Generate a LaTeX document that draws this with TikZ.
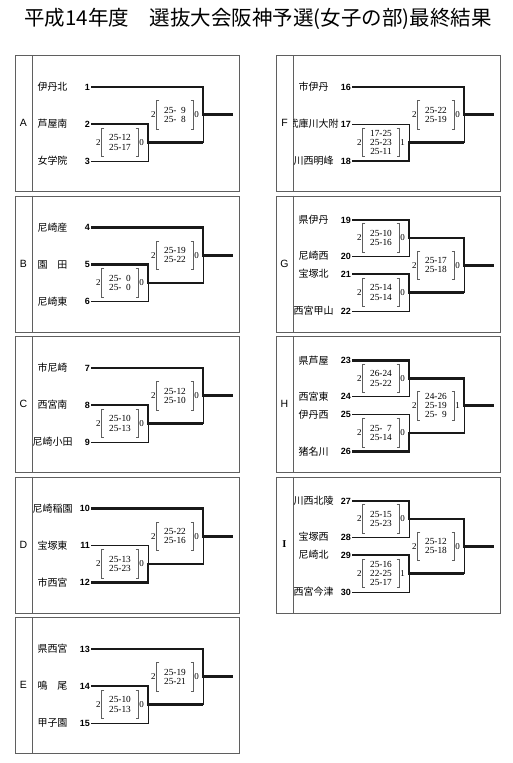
\documentclass[tikz,border=0pt]{standalone}
\usepackage{fontspec}
\setmainfont{Liberation Serif}
\setsansfont{Liberation Sans}
\newfontfamily\jpfont{Noto Sans CJK JP}
\usetikzlibrary{positioning}
\definecolor{ink}{RGB}{25,25,25}
\definecolor{rule}{RGB}{95,95,95}
\tikzset{
  title/.style={font=\jpfont\fontsize{20.5}{20.5}\selectfont,inner sep=0pt},
  frame/.style={draw=rule,line width=0.8pt},
  poolname/.style={font=\sffamily\fontsize{10.5}{10.5}\selectfont},
  school/.style={font=\jpfont\fontsize{10}{10}\selectfont,inner sep=0pt},
  seed/.style={font=\sffamily\bfseries\fontsize{9}{9}\selectfont,anchor=east,inner sep=1pt},
  win/.style={draw=ink,line width=2.6pt},
  lose/.style={draw=ink,line width=0.9pt},
  scores/.style={font=\fontsize{9.3}{9.2}\selectfont,align=center,
    minimum width=36pt,minimum height=28pt,inner sep=0pt},
  sets/.style={font=\fontsize{9}{9}\selectfont,inner sep=1pt},
  brk/.style={draw=rule,line width=0.7pt},
}
% frame of one pool: id, column x, top, letter
\newcommand{\pool}[4]{%
  \node[frame,anchor=north west,minimum width=224pt,minimum height=136pt,inner sep=0pt] (#1box) at (#2+15,#3) {};
  \draw[frame] ([xshift=17pt]#1box.north west) -- ([xshift=17pt]#1box.south west);
  \node[poolname] (#1) at (#2+23.5,#3+68) {#4};}
% one team: id, column x, y, school, number
\newcommand{\team}[5]{%
  \node[school] (#1name) at (#2+52.5,#3) {#4};
  \node[seed] (#1) at (#2+91,#3) {#5};}
% one match: junction, winner, loser, next junction
\newcommand{\bout}[4]{%
  \draw[lose] (#3) -| (#1);
  \draw[win] (#2) -| (#1) -- (#1 -| #4);}
% set scores beside a junction
\newcommand{\score}[4]{%
  \node[scores] (#1s) at ([xshift=-28pt]#1) {#2};
  \draw[brk] ([xshift=2.5pt]#1s.north west) -- (#1s.north west) -- (#1s.south west) -- ([xshift=2.5pt]#1s.south west);
  \draw[brk] ([xshift=-2.5pt]#1s.north east) -- (#1s.north east) -- (#1s.south east) -- ([xshift=-2.5pt]#1s.south east);
  \node[sets,left=0pt of #1s] (#1l) {#3};
  \node[sets,right=0pt of #1s] (#1r) {#4};}

\begin{document}
\begin{tikzpicture}[x=1pt,y=-1pt]
\useasboundingbox (0,0) rectangle (512,763);
\node[title] (title) at (258,19) {平成14年度\quad 選抜大会阪神予選(女子の部)最終結果};

% pool A
\pool{A}{0}{55}{A}
\team{t1}{0}{87}{伊丹北}{1}
\team{t2}{0}{124}{芦屋南}{2}
\team{t3}{0}{161}{女学院}{3}
\coordinate (a1) at (148,142.5);
\coordinate (a2) at (203,114.75);
\coordinate (aw) at (233,114.75);
\bout{a1}{t2.east}{t3.east}{a2}
\bout{a2}{t1.east}{a1}{aw}
\score{a1}{25-12\\25-17}{2}{0}
\score{a2}{25-\phantom{0}9\\25-\phantom{0}8}{2}{0}

% pool B
\pool{B}{0}{195.5}{B}
\team{t4}{0}{227.5}{尼崎産}{4}
\team{t5}{0}{264.5}{園　田}{5}
\team{t6}{0}{301.5}{尼崎東}{6}
\coordinate (b1) at (148,283);
\coordinate (b2) at (203,255.25);
\coordinate (bw) at (233,255.25);
\bout{b1}{t5.east}{t6.east}{b2}
\bout{b2}{t4.east}{b1}{bw}
\score{b1}{25-\phantom{0}0\\25-\phantom{0}0}{2}{0}
\score{b2}{25-19\\25-22}{2}{0}

% pool C
\pool{C}{0}{336}{C}
\team{t7}{0}{368}{市尼崎}{7}
\team{t8}{0}{405}{西宮南}{8}
\team{t9}{0}{442}{尼崎小田}{9}
\coordinate (c1) at (148,423.5);
\coordinate (c2) at (203,395.75);
\coordinate (cw) at (233,395.75);
\bout{c1}{t8.east}{t9.east}{c2}
\bout{c2}{t7.east}{c1}{cw}
\score{c1}{25-10\\25-13}{2}{0}
\score{c2}{25-12\\25-10}{2}{0}

% pool D
\pool{D}{0}{476.5}{D}
\team{t10}{0}{508.5}{尼崎稲園}{10}
\team{t11}{0}{545.5}{宝塚東}{11}
\team{t12}{0}{582.5}{市西宮}{12}
\coordinate (d1) at (148,564);
\coordinate (d2) at (203,536.25);
\coordinate (dw) at (233,536.25);
\bout{d1}{t12.east}{t11.east}{d2}
\bout{d2}{t10.east}{d1}{dw}
\score{d1}{25-13\\25-23}{2}{0}
\score{d2}{25-22\\25-16}{2}{0}

% pool E
\pool{E}{0}{617}{E}
\team{t13}{0}{649}{県西宮}{13}
\team{t14}{0}{686}{鳴　尾}{14}
\team{t15}{0}{723}{甲子園}{15}
\coordinate (e1) at (148,704.5);
\coordinate (e2) at (203,676.75);
\coordinate (ew) at (233,676.75);
\bout{e1}{t14.east}{t15.east}{e2}
\bout{e2}{t13.east}{e1}{ew}
\score{e1}{25-10\\25-13}{2}{0}
\score{e2}{25-19\\25-21}{2}{0}

% pool F
\pool{F}{261}{55}{F}
\team{t16}{261}{87}{市伊丹}{16}
\begin{scope}
  \clip (293.5,110) rectangle (360,140);
  \team{t17}{261}{124}{武庫川大附}{17}
\end{scope}
\team{t18}{261}{161}{川西明峰}{18}
\coordinate (f1) at (409,142.5);
\coordinate (f2) at (464,114.75);
\coordinate (fw) at (494,114.75);
\bout{f1}{t18.east}{t17.east}{f2}
\bout{f2}{t16.east}{f1}{fw}
\score{f1}{17-25\\25-23\\25-11}{2}{1}
\score{f2}{25-22\\25-19}{2}{0}

% pool G
\pool{G}{261}{195.5}{G}
\team{t19}{261}{220}{県伊丹}{19}
\team{t20}{261}{256}{尼崎西}{20}
\team{t21}{261}{274}{宝塚北}{21}
\team{t22}{261}{311}{西宮甲山}{22}
\coordinate (g1) at (409,238);
\coordinate (g2) at (409,292.5);
\coordinate (g3) at (464,265.25);
\coordinate (gw) at (494,265.25);
\bout{g1}{t19.east}{t20.east}{g3}
\bout{g2}{t21.east}{t22.east}{g3}
\bout{g3}{g1}{g2}{gw}
\score{g1}{25-10\\25-16}{2}{0}
\score{g2}{25-14\\25-14}{2}{0}
\score{g3}{25-17\\25-18}{2}{0}

% pool H
\pool{H}{261}{336}{H}
\team{t23}{261}{360.5}{県芦屋}{23}
\team{t24}{261}{396.5}{西宮東}{24}
\team{t25}{261}{414.5}{伊丹西}{25}
\team{t26}{261}{451.5}{猪名川}{26}
\coordinate (h1) at (409,378.5);
\coordinate (h2) at (409,433);
\coordinate (h3) at (464,405.75);
\coordinate (hw) at (494,405.75);
\bout{h1}{t23.east}{t24.east}{h3}
\bout{h2}{t26.east}{t25.east}{h3}
\bout{h3}{h1}{h2}{hw}
\score{h1}{26-24\\25-22}{2}{0}
\score{h2}{25-\phantom{0}7\\25-14}{2}{0}
\score{h3}{24-26\\25-19\\25-\phantom{0}9}{2}{1}

% pool I
\pool{I}{261}{476.5}{\rmfamily\bfseries I}
\team{t27}{261}{501}{川西北陵}{27}
\team{t28}{261}{537}{宝塚西}{28}
\team{t29}{261}{555}{尼崎北}{29}
\team{t30}{261}{592}{西宮今津}{30}
\coordinate (i1) at (409,519);
\coordinate (i2) at (409,573.5);
\coordinate (i3) at (464,546.25);
\coordinate (iw) at (494,546.25);
\bout{i1}{t27.east}{t28.east}{i3}
\bout{i2}{t29.east}{t30.east}{i3}
\bout{i3}{i1}{i2}{iw}
\score{i1}{25-15\\25-23}{2}{0}
\score{i2}{25-16\\22-25\\25-17}{2}{1}
\score{i3}{25-12\\25-18}{2}{0}
\end{tikzpicture}
\end{document}
